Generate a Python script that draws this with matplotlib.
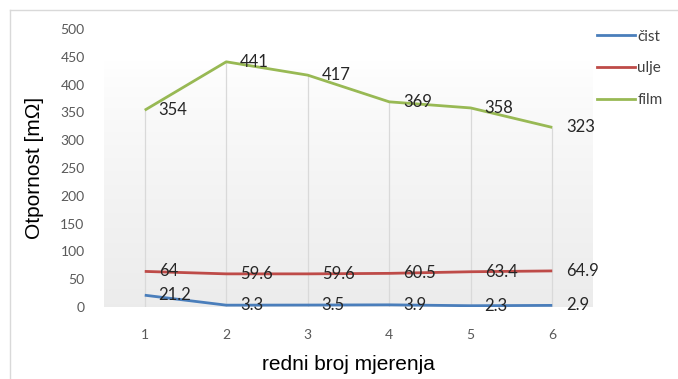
import matplotlib
matplotlib.use("Agg")
import matplotlib.pyplot as plt
from matplotlib.lines import Line2D
import numpy as np

# measurement data
mjerenja = [1, 2, 3, 4, 5, 6]
cist = [21.2, 3.3, 3.5, 3.9, 2.3, 2.9]
ulje = [64, 59.6, 59.6, 60.5, 63.4, 64.9]
film = [354, 441, 417, 369, 358, 323]
labels = ["čist", "ulje", "film"]
colors = ["#4a7ebb", "#be4b48", "#98b954"]
yticks = [0, 50, 100, 150, 200, 250, 300, 350, 400, 450, 500]

W, H = 678, 379
fig = plt.figure(figsize=(W / 100, H / 100), dpi=100)
ax = fig.add_axes([104 / W, 1 - 307 / H, 489 / W, 278 / H])
ax.set_xlim(0.5, 6.5)
ax.set_ylim(0, 500)

# plot area: white at the top fading to light grey at the bottom
t = np.linspace(0, 1, 256)[:, None]
shade = 1 - 0.075 * np.clip((t - 0.12) / 0.88, 0, 1) ** 0.8
grad = np.dstack([shade, shade, shade])
ax.imshow(grad, extent=(0.5, 6.5, 0, 500), origin="upper", aspect="auto",
          zorder=0, interpolation="bicubic")

# drop lines from the highest series to the axis
tops = np.max([cist, ulje, film], axis=0)
ax.vlines(mjerenja, 0, tops, color="#d9d9d9", lw=0.9, zorder=1)

for series, col in zip([cist, ulje, film], colors):
    ax.plot(mjerenja, series, color=col, lw=2.0, zorder=3, solid_capstyle="butt")
    for x, y in zip(mjerenja, series):
        ax.annotate(f"{y:g}", (x, y), xytext=(10, 0), textcoords="offset points",
                    va="center", ha="left", fontsize=12, color="#262626",
                    family="Lato", zorder=4)

for s in ax.spines.values():
    s.set_visible(False)
ax.set_xticks(mjerenja)
ax.set_yticks(yticks)
ax.tick_params(length=0, labelsize=10, labelcolor="#595959")
ax.tick_params(axis="y", pad=14)
ax.tick_params(axis="x", pad=16)
for lab in ax.get_xticklabels() + ax.get_yticklabels():
    lab.set_family("Lato")

fig.text(35 / W, 1 - 168 / H, "Otpornost [mΩ]", rotation=90, ha="center",
         va="center", fontsize=15, family="Liberation Sans", color="#000000")
fig.text(348 / W, 1 - 365 / H, "redni broj mjerenja", ha="center", va="center",
         fontsize=15, family="Liberation Sans", color="#000000")

handles = [Line2D([], [], color=c, lw=2.0) for c in colors]
leg = fig.legend(handles, labels, loc="upper left",
                 bbox_to_anchor=(583 / W, 1 - 16 / H), frameon=False,
                 handlelength=2.5, handletextpad=0.15, labelspacing=1.15,
                 prop={"family": "Lato", "size": 11})
for txt in leg.get_texts():
    txt.set_color("#404040")

# chart border (top and left edges)
fig.add_artist(Line2D([10 / W, 10 / W], [0, 1 - 10 / H], color="#d9d9d9", lw=1))
fig.add_artist(Line2D([10 / W, 1], [1 - 10 / H, 1 - 10 / H], color="#d9d9d9", lw=1))

fig.savefig("out.png", dpi=100)
